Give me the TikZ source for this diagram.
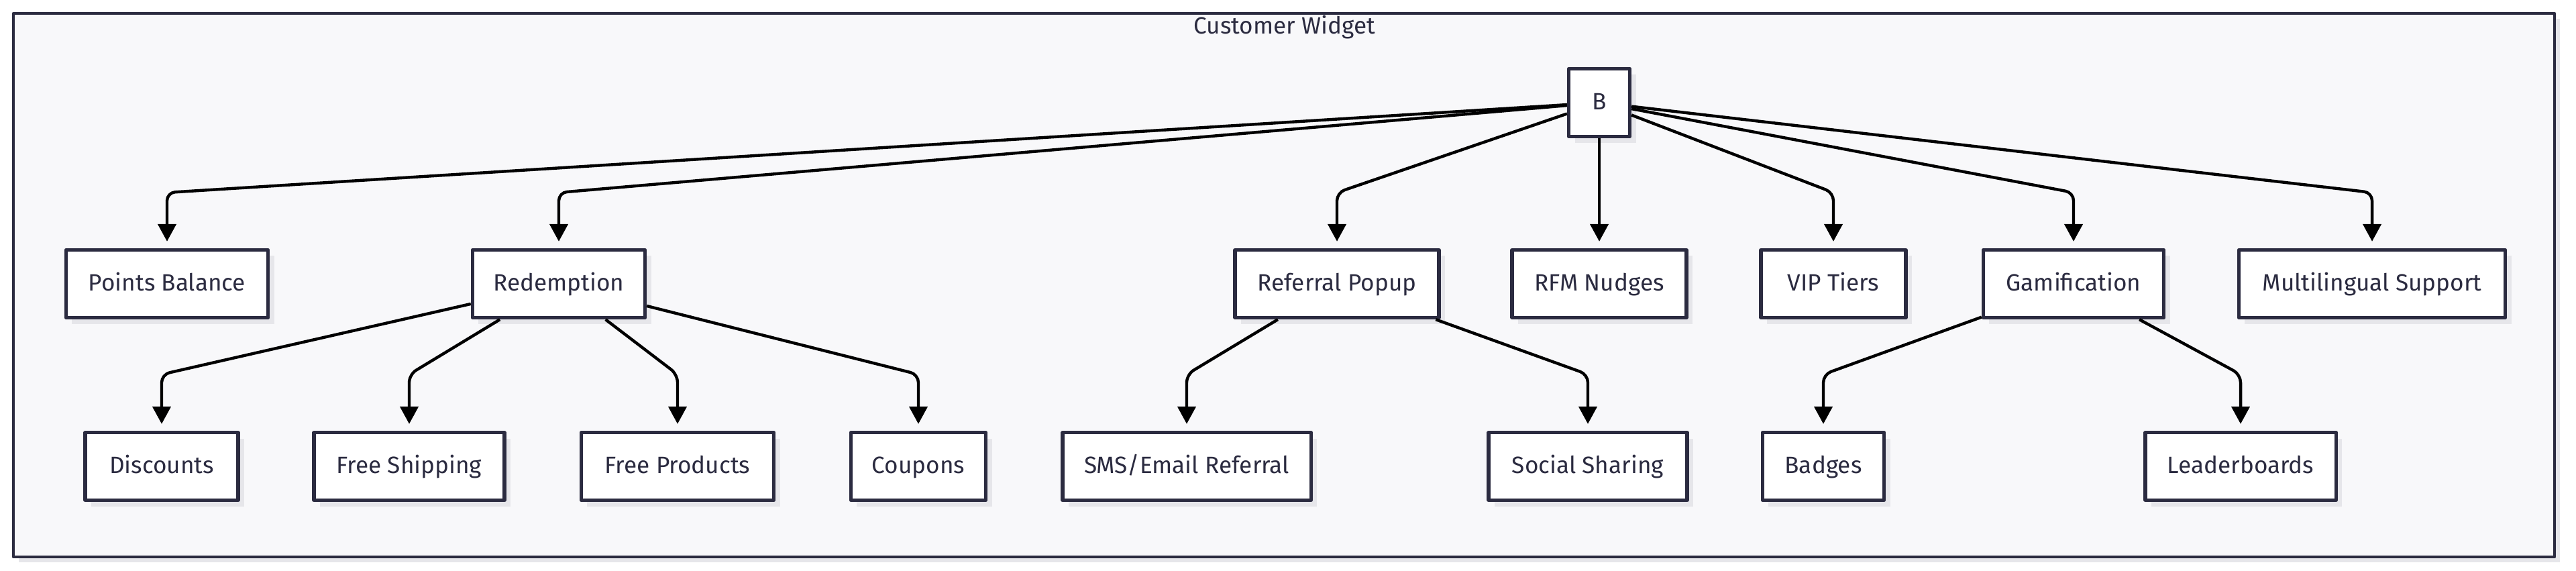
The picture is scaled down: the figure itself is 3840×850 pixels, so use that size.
\documentclass[tikz,border=0pt]{standalone}
\usepackage{fontspec}
\setmainfont{Fira Sans}
\usetikzlibrary{arrows.meta,shadows}
\definecolor{navy}{HTML}{2B2B40}
\definecolor{paper}{HTML}{F8F8FA}
\definecolor{shade}{HTML}{E6E6EA}
\begin{document}
\begin{tikzpicture}[x=0.01cm, y=-0.01cm, font=\fontsize{10}{12}\selectfont, line join=round,
		box/.style={draw=navy, line width=1.5pt, fill=white, text=navy, minimum height=1.01cm, inner sep=0pt,
			text height=1.6ex, text depth=0.45ex,
			drop shadow={shadow xshift=0.09cm, shadow yshift=-0.09cm, fill=shade, opacity=1}},
		link/.style={draw=black, line width=1.25pt, rounded corners=0.12cm, shorten >=0.1cm,
			-{Triangle[length=0.26cm, width=0.27cm]}}]
	\fill[white] (0,0) rectangle (3840,850);
	\useasboundingbox (0,0) rectangle (3840,850);
	\draw[draw=navy, line width=1.3pt, fill=paper, drop shadow={shadow xshift=0.08cm, shadow yshift=-0.08cm, fill=shade, opacity=1}] (20,20) rectangle (3808,830);
	\node[text=navy] (title) at (1915,41) {Customer Widget};
	\coordinate (lvl1) at (0,287);
	\coordinate (lvl2) at (0,558);
	\node[box, minimum width=0.91cm] (B) at (2384,153) {B};
	\node[box, minimum width=3.01cm] (pts) at (249,423) {Points Balance};
	\node[box, minimum width=2.57cm] (redeem) at (833,423) {Redemption};
	\node[box, minimum width=3.04cm] (referral) at (1993,423) {Referral Popup};
	\node[box, minimum width=2.60cm] (rfm) at (2384,423) {RFM Nudges};
	\node[box, minimum width=2.16cm] (vip) at (2733,423) {VIP Tiers};
	\node[box, minimum width=2.69cm] (gamif) at (3091,423) {Gamification};
	\node[box, minimum width=3.97cm] (multi) at (3536,423) {Multilingual Support};
	\node[box, minimum width=2.28cm] (disc) at (241,695) {Discounts};
	\node[box, minimum width=2.84cm] (ship) at (610,695) {Free Shipping};
	\node[box, minimum width=2.87cm] (prod) at (1010,695) {Free Products};
	\node[box, minimum width=2.01cm] (coupon) at (1369,695) {Coupons};
	\node[box, minimum width=3.70cm] (sms) at (1769,695) {SMS/Email Referral};
	\node[box, minimum width=2.96cm] (social) at (2367,695) {Social Sharing};
	\node[box, minimum width=1.81cm] (badge) at (2718,695) {Badges};
	\node[box, minimum width=2.84cm] (leader) at (3340,695) {Leaderboards};
	\foreach \kid in {pts,redeem,referral,vip,gamif,multi}
		\draw[link] (B) -- (\kid.north |- lvl1) -- (\kid.north);
	\draw[link] (B) -- (rfm);
	\foreach \up/\kid in {redeem/disc,redeem/ship,redeem/prod,redeem/coupon,referral/sms,referral/social,gamif/badge,gamif/leader}
		\draw[link] (\up) -- (\kid.north |- lvl2) -- (\kid.north);
\end{tikzpicture}
\end{document}
